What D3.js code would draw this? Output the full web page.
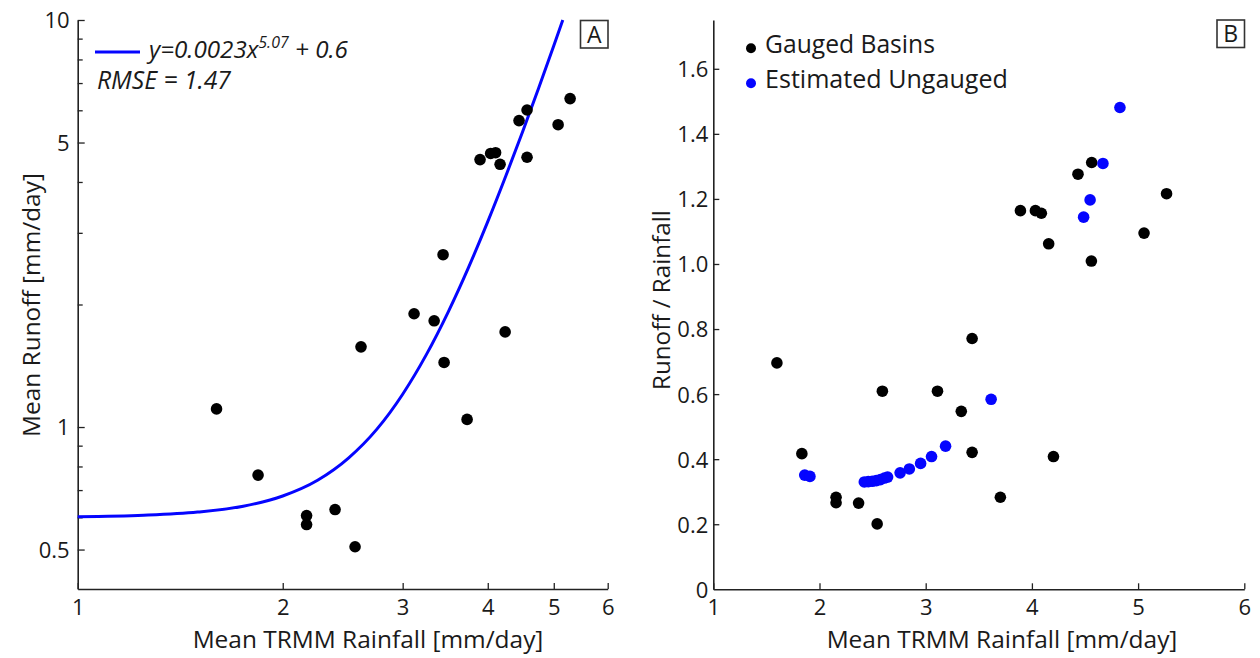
<!DOCTYPE html>
<html>
<head>
<meta charset="utf-8">
<script src="https://cdn.jsdelivr.net/npm/d3@7"></script>
<style>
  html, body { margin: 0; padding: 0; background: #fff; }
  svg { display: block; }
  text { font-family: "Open Sans", "Noto Sans", sans-serif; fill: #1a1a1a; }
</style>
</head>
<body>
<svg id="chart" width="1260" height="658"></svg>
<script>
// ---------- Panel A: mean runoff vs mean TRMM rainfall (log-log) ----------
const rainA   = [1.599, 1.840, 2.168, 2.168, 2.387, 2.554, 2.606, 3.118, 3.337, 3.439, 3.451, 3.730, 4.242,
                 3.897, 4.039, 4.107, 4.170, 4.446, 4.568, 4.568, 5.074, 5.284];
const runoffA = [1.108, 0.762, 0.606, 0.576, 0.627, 0.508, 1.574, 1.898, 1.824, 2.651, 1.441, 1.044, 1.713,
                 4.54, 4.70, 4.72, 4.42, 5.66, 6.01, 4.60, 5.53, 6.41];
// fitted curve
const fitRain   = [1, 1.25, 1.5, 1.75, 2, 2.25, 2.5, 2.75, 3, 3.25, 3.5, 3.75, 4, 4.25, 4.5, 4.75, 5, 5.155];
const fitRunoff = [0.602, 0.607, 0.618, 0.639, 0.677, 0.740, 0.840, 0.988, 1.204, 1.506, 1.919, 2.471,
                   3.196, 4.131, 5.316, 6.80, 8.65, 10.0];
const xTicksA      = [1, 2, 3, 4, 5, 6];
const yTicksA      = [0.5, 0.6, 0.7, 0.8, 0.9, 1, 2, 3, 4, 5, 6, 7, 8, 9, 10];
const yTickLabelsA = [0.5, 1, 5, 10];
const legendA = { eqMain: "y=0.0023x", eqExp: "5.07", eqTail: " + 0.6", rmse: "RMSE = 1.47" };

// ---------- Panel B: runoff / rainfall ratio ----------
const rainGauged  = [1.599, 1.834, 2.156, 2.156, 2.368, 2.543, 2.592, 3.111, 3.335, 3.437, 3.437, 3.703, 4.203,
                     3.892, 4.033, 4.089, 4.158, 4.434, 4.563, 4.560, 5.056, 5.268];
const ratioGauged = [0.696, 0.417, 0.283, 0.266, 0.265, 0.201, 0.609, 0.609, 0.547, 0.771, 0.421, 0.283, 0.408,
                     1.164, 1.164, 1.156, 1.062, 1.276, 1.312, 1.009, 1.095, 1.216];
const rainUngauged  = [1.861, 1.910, 2.422, 2.459, 2.497, 2.535, 2.573, 2.611, 2.641, 2.759, 2.846, 2.952,
                       3.055, 3.187, 3.616, 4.487, 4.548, 4.669, 4.829];
const ratioUngauged = [0.351, 0.347, 0.330, 0.331, 0.332, 0.334, 0.337, 0.342, 0.345, 0.358, 0.370, 0.387,
                       0.408, 0.440, 0.584, 1.144, 1.197, 1.309, 1.481];
const xTicksB      = [1, 2, 3, 4, 5, 6];
const yTicksB      = [0, 0.2, 0.4, 0.6, 0.8, 1.0, 1.2, 1.4, 1.6];
const yTickLabelsB = ["0", "0.2", "0.4", "0.6", "0.8", "1.0", "1.2", "1.4", "1.6"];
const seriesNames  = ["Gauged Basins", "Estimated Ungauged"];

const xLabel  = "Mean TRMM Rainfall [mm/day]";
const yLabelA = "Mean Runoff [mm/day]";
const yLabelB = "Runoff / Rainfall";

// ---------- drawing ----------
const svg = d3.select("#chart");
const AX = "#222";
const BLUE = "#0505ff";

function fit(sel, target) {
  const w = sel.node().getComputedTextLength();
  const fs = parseFloat(sel.attr("font-size"));
  sel.attr("font-size", (fs * target / w).toFixed(2));
}

function styleAxis(g) {
  g.select(".domain").attr("stroke", AX).attr("stroke-width", 1.6);
  g.selectAll(".tick line").attr("stroke", AX).attr("stroke-width", 1.3);
  g.selectAll(".tick text").attr("font-family", null).attr("font-size", 22).attr("fill", "#1a1a1a");
}

// Panel A scales
const xA = d3.scaleLog().domain([1, 6]).range([77.7, 607.7]);
const yA = d3.scaleLog().domain([0.4, 10]).range([589, 20]);

const gA = svg.append("g");
const xAxA = gA.append("g").attr("transform", `translate(0,${yA.range()[0]})`)
  .call(d3.axisBottom(xA).tickValues(xTicksA).tickFormat(d3.format("d")).tickSizeInner(-6).tickSizeOuter(0));
styleAxis(xAxA);
xAxA.selectAll(".tick text").attr("y", 26).attr("dy", 0);
const yAxA = gA.append("g").attr("transform", `translate(${xA.range()[0]},0)`)
  .call(d3.axisLeft(yA).tickValues(yTicksA).tickSizeInner(-6).tickSizeOuter(0)
    .tickFormat(d => yTickLabelsA.includes(d) ? String(d) : ""));
styleAxis(yAxA);
yAxA.selectAll(".tick line").attr("x2", d => yTickLabelsA.includes(d) ? 7 : 5);
yAxA.selectAll(".tick text").attr("x", -8).attr("dy", "0.36em");
// fit curve
const fitData = fitRain.map((r, i) => [r, fitRunoff[i]]);
gA.append("path").datum(fitData)
  .attr("fill", "none").attr("stroke", BLUE).attr("stroke-width", 3)
  .attr("d", d3.line().x(d => xA(d[0])).y(d => yA(d[1])).curve(d3.curveMonotoneX));
// points
gA.append("g").selectAll("circle").data(rainA.map((r, i) => [r, runoffA[i]])).join("circle")
  .attr("cx", d => xA(d[0])).attr("cy", d => yA(d[1])).attr("r", 5.8).attr("fill", "#000");
// labels
const xlA = gA.append("text").attr("x", 368).attr("y", 648).attr("text-anchor", "middle")
  .attr("font-size", 22).text(xLabel);
fit(xlA, 351);
const ylA = gA.append("text").attr("transform", "translate(40,305) rotate(-90)").attr("text-anchor", "middle")
  .attr("font-size", 22).text(yLabelA);
fit(ylA, 264);
// legend A
gA.append("line").attr("x1", 95).attr("x2", 140).attr("y1", 52).attr("y2", 52)
  .attr("stroke", BLUE).attr("stroke-width", 3);
const eqBase = 21;
const eq = gA.append("text").attr("x", 149).attr("y", 58).attr("font-style", "italic");
const t1 = eq.append("tspan").attr("font-size", eqBase).text(legendA.eqMain);
const t2 = eq.append("tspan").attr("font-size", eqBase * 0.66).attr("dy", -9).text(legendA.eqExp);
const t3 = eq.append("tspan").attr("font-size", eqBase).attr("dy", 9).text(legendA.eqTail);
{
  const w = eq.node().getComputedTextLength();
  const k = 199 / w;
  t1.attr("font-size", eqBase * k);
  t2.attr("font-size", eqBase * 0.66 * k).attr("dy", -9 * k);
  t3.attr("font-size", eqBase * k).attr("dy", 9 * k);
}
const rm = gA.append("text").attr("x", 97).attr("y", 89).attr("font-size", 21).attr("font-style", "italic")
  .text(legendA.rmse);
fit(rm, 134);
// panel label A
gA.append("rect").attr("x", 580.5).attr("y", 20.5).attr("width", 27.5).attr("height", 27.5)
  .attr("fill", "none").attr("stroke", "#333").attr("stroke-width", 1.6);
gA.append("text").attr("x", 594.3).attr("y", 42.5).attr("text-anchor", "middle").attr("font-size", 23).text("A");

// Panel B scales
const xB = d3.scaleLinear().domain([1, 6]).range([713.3, 1244.3]);
const yB = d3.scaleLinear().domain([0, 1.75]).range([589.3, 20]);
const gB = svg.append("g");
const xAxB = gB.append("g").attr("transform", `translate(0,${yB.range()[0]})`)
  .call(d3.axisBottom(xB).tickValues(xTicksB).tickFormat(d3.format("d")).tickSizeInner(-6).tickSizeOuter(0));
styleAxis(xAxB);
xAxB.selectAll(".tick text").attr("y", 26).attr("dy", 0);
const yAxB = gB.append("g").attr("transform", `translate(${xB.range()[0]},0)`)
  .call(d3.axisLeft(yB).tickValues(yTicksB).tickSizeInner(-6).tickSizeOuter(0)
    .tickFormat((d, i) => yTickLabelsB[i]));
styleAxis(yAxB);
yAxB.selectAll(".tick text").attr("x", -5).attr("dy", "0.36em");
yAxB.selectAll(".tick").filter(d => d === 0).select("line").remove();
// points
gB.append("g").selectAll("circle").data(rainGauged.map((r, i) => [r, ratioGauged[i]])).join("circle")
  .attr("cx", d => xB(d[0])).attr("cy", d => yB(d[1])).attr("r", 5.8).attr("fill", "#000");
gB.append("g").selectAll("circle").data(rainUngauged.map((r, i) => [r, ratioUngauged[i]])).join("circle")
  .attr("cx", d => xB(d[0])).attr("cy", d => yB(d[1])).attr("r", 5.8).attr("fill", BLUE);
const xlB = gB.append("text").attr("x", 1002).attr("y", 648).attr("text-anchor", "middle")
  .attr("font-size", 22).text(xLabel);
fit(xlB, 351);
const ylB = gB.append("text").attr("transform", "translate(670,300) rotate(-90)").attr("text-anchor", "middle")
  .attr("font-size", 22).text(yLabelB);
fit(ylB, 180);
// legend B
const legColors = ["#000", BLUE];
const legY = [48.3, 83.3];
const legWidths = [170, 243];
seriesNames.forEach((name, i) => {
  gB.append("circle").attr("cx", 751).attr("cy", legY[i]).attr("r", 5).attr("fill", legColors[i]);
  const t = gB.append("text").attr("x", 765).attr("y", legY[i] + 5).attr("font-size", 22).text(name);
  fit(t, legWidths[i]);
});
gB.append("rect").attr("x", 1217).attr("y", 20).attr("width", 27.5).attr("height", 27.5)
  .attr("fill", "none").attr("stroke", "#333").attr("stroke-width", 1.6);
gB.append("text").attr("x", 1230.8).attr("y", 42).attr("text-anchor", "middle").attr("font-size", 23).text("B");
</script>
</body>
</html>
